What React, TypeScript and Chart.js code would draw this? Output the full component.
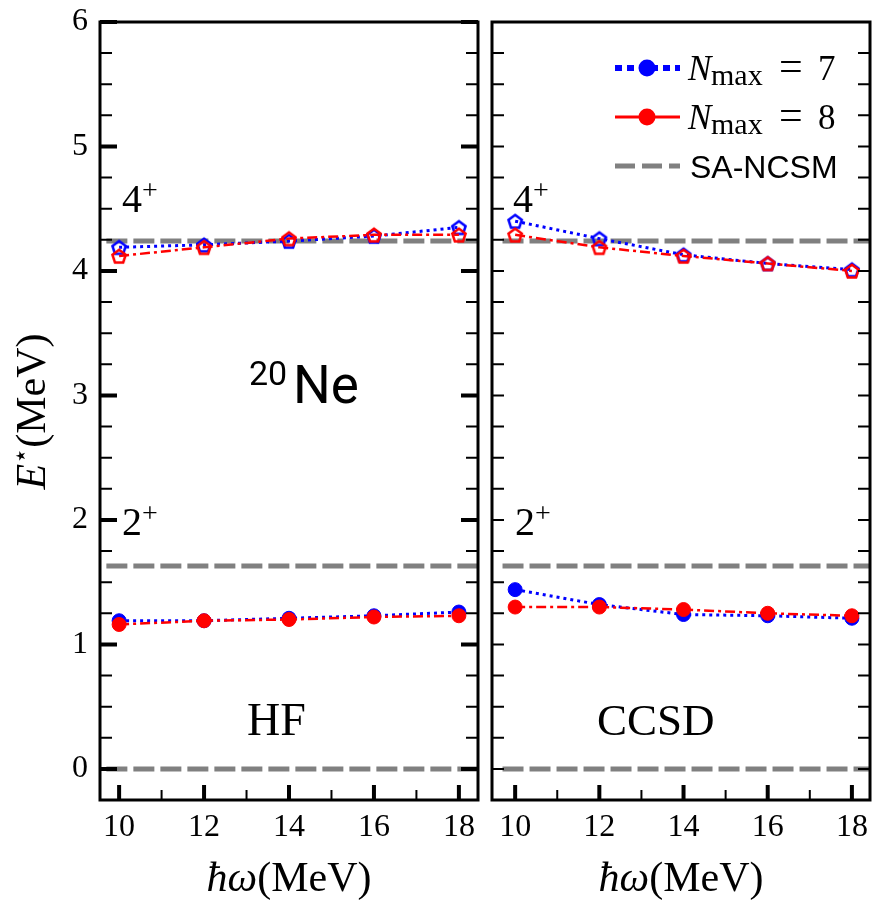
import { useEffect, useRef } from 'react';
import { Chart, registerables } from 'chart.js';
Chart.register(...registerables);

// ---------- data ----------
const hw = [10, 12, 14, 16, 18];
// HF panel
const hfFourN7 = [4.19, 4.21, 4.24, 4.28, 4.35];
const hfFourN8 = [4.12, 4.19, 4.26, 4.29, 4.29];
const hfTwoN7 = [1.19, 1.19, 1.21, 1.23, 1.26];
const hfTwoN8 = [1.16, 1.19, 1.2, 1.22, 1.23];
// CCSD panel
const ccFourN7 = [4.4, 4.26, 4.13, 4.06, 4.01];
const ccFourN8 = [4.29, 4.19, 4.12, 4.06, 4.0];
const ccTwoN7 = [1.44, 1.32, 1.24, 1.23, 1.21];
const ccTwoN8 = [1.3, 1.3, 1.28, 1.25, 1.23];
// SA-NCSM reference levels
const saLevels = [4.24, 1.63, 0];
const saX = [9.7, 18.45];
// ticks
const xTickValues = [10, 12, 14, 16, 18];
const yTickValues = [0, 1, 2, 3, 4, 5, 6];

const SERIF = '"Liberation Serif", "DejaVu Serif", serif';
const SANS = '"Liberation Sans", Arial, sans-serif';
const BLUE = '#0000ff';
const RED = '#ff0000';
const GRAY = '#808080';
const W = 874;
const H = 902;

function pentagon(color: string) {
  const c = document.createElement('canvas');
  c.width = 20;
  c.height = 20;
  const g = c.getContext('2d')!;
  g.strokeStyle = color;
  g.lineWidth = 2.5;
  g.beginPath();
  for (let i = 0; i < 5; i++) {
    const a = -Math.PI / 2 + (i * 2 * Math.PI) / 5;
    const px = 10 + 7 * Math.cos(a);
    const py = 10.8 + 7 * Math.sin(a);
    if (i) g.lineTo(px, py);
    else g.moveTo(px, py);
  }
  g.closePath();
  g.stroke();
  return c;
}

function buildDatasets(f7: number[], f8: number[], t7: number[], t8: number[]) {
  const pts = (ys: number[]) => hw.map((x, i) => ({ x, y: ys[i] }));
  const pb = pentagon(BLUE);
  const pr = pentagon(RED);
  const sa = saLevels.map((lv) => ({
    data: saX.map((x) => ({ x, y: lv })),
    borderColor: GRAY,
    borderWidth: 5,
    borderDash: [21, 6],
    pointRadius: 0,
    order: 5,
  }));
  const blueLine = { borderColor: BLUE, borderWidth: 3, borderDash: [3, 4], order: 3 };
  const redLine = { borderColor: RED, borderWidth: 2.5, borderDash: [10, 4, 3, 4], order: 1 };
  return [
    ...sa,
    { ...blueLine, data: pts(f7), pointStyle: pb, pointRadius: 8 },
    { ...blueLine, data: pts(t7), pointStyle: 'circle', pointRadius: 7, pointBackgroundColor: BLUE, pointBorderColor: BLUE, pointBorderWidth: 1 },
    { ...redLine, data: pts(f8), pointStyle: pr, pointRadius: 8 },
    { ...redLine, data: pts(t8), pointStyle: 'circle', pointRadius: 7, pointBackgroundColor: RED, pointBorderColor: RED, pointBorderWidth: 1 },
  ];
}

type Part = { t: string; font: string; dy?: number };
function drawParts(ctx: CanvasRenderingContext2D, parts: Part[], x: number, y: number, align: 'left' | 'center') {
  let total = 0;
  for (const p of parts) {
    ctx.font = p.font;
    total += ctx.measureText(p.t).width;
  }
  let cx = align === 'center' ? x - total / 2 : x;
  ctx.textAlign = 'left';
  ctx.textBaseline = 'alphabetic';
  for (const p of parts) {
    ctx.font = p.font;
    ctx.fillText(p.t, cx, y + (p.dy || 0));
    cx += ctx.measureText(p.t).width;
  }
}

function drawLevel(ctx: CanvasRenderingContext2D, digit: string, x: number, base: number) {
  ctx.fillStyle = '#000';
  drawParts(ctx, [
    { t: digit, font: `40px ${SERIF}` },
    { t: '+', font: `28px ${SERIF}`, dy: -13.5 },
  ], x, base, 'left');
}

function frameTicksPlugin(majorY: boolean) {
  return {
    id: 'frameTicks',
    afterDatasetsDraw(chart: any) {
      const { ctx, chartArea: a, scales } = chart;
      const xs = scales.x;
      const ys = scales.y;
      ctx.save();
      ctx.strokeStyle = '#000';
      ctx.setLineDash([]);
      // y ticks, both sides
      for (let i = 0; i <= 24; i++) {
        const v = i / 4;
        const py = ys.getPixelForValue(v);
        const major = majorY && i % 4 === 0;
        const len = major ? 17 : 12;
        ctx.lineWidth = major ? 4 : 2;
        ctx.beginPath();
        ctx.moveTo(a.left, py);
        ctx.lineTo(a.left + len, py);
        ctx.moveTo(a.right, py);
        ctx.lineTo(a.right - len, py);
        ctx.stroke();
      }
      // x ticks bottom
      for (let v = 10; v <= 18; v++) {
        const px = xs.getPixelForValue(v);
        const major = v % 2 === 0;
        ctx.lineWidth = major ? 4 : 2;
        ctx.beginPath();
        ctx.moveTo(px, a.bottom);
        ctx.lineTo(px, a.bottom - (major ? 15 : 10));
        ctx.stroke();
      }
      ctx.lineWidth = 3;
      ctx.strokeRect(a.left, a.top, a.right - a.left, a.bottom - a.top);
      ctx.restore();
    },
  };
}

function textPlugin(off: number, left: boolean) {
  return {
    id: 'texts',
    afterDraw(chart: any) {
      const ctx: CanvasRenderingContext2D = chart.ctx;
      const a = chart.chartArea;
      ctx.save();
      ctx.fillStyle = '#000';
      if (left) {
        drawLevel(ctx, '4', 122 - off, 212);
        drawLevel(ctx, '2', 122 - off, 535);
        drawParts(ctx, [{ t: 'HF', font: `46px ${SERIF}` }], 247 - off, 735, 'left');
        drawParts(ctx, [{ t: '20', font: `34px Roboto, ${SANS}` }], 249 - off, 385, 'left');
        drawParts(ctx, [{ t: 'Ne', font: `53px Roboto, ${SANS}` }], 293 - off, 403, 'left');
        // y axis title
        ctx.save();
        ctx.translate(45 - off, 411.5);
        ctx.rotate(-Math.PI / 2);
        drawParts(ctx, [
          { t: 'E', font: `italic 42px ${SERIF}` },
          { t: '⋆', font: `26px ${SERIF}`, dy: -16 },
          { t: '(MeV)', font: `42px ${SERIF}` },
        ], 0, 0, 'center');
        ctx.restore();
      } else {
        drawLevel(ctx, '4', 513 - off, 212);
        drawLevel(ctx, '2', 515 - off, 535);
        drawParts(ctx, [{ t: 'CCSD', font: `45px ${SERIF}` }], 597 - off, 735, 'left');
        // legend
        const lx0 = 615 - off;
        const lx1 = 680 - off;
        const mx = 647 - off;
        const rows = [68, 117, 166];
        ctx.lineCap = 'butt';
        // row 1
        ctx.strokeStyle = BLUE;
        ctx.lineWidth = 6;
        ctx.setLineDash([7, 5]);
        ctx.beginPath();
        ctx.moveTo(lx0, rows[0]);
        ctx.lineTo(lx1, rows[0]);
        ctx.stroke();
        ctx.fillStyle = BLUE;
        ctx.beginPath();
        ctx.arc(mx, rows[0], 8.5, 0, Math.PI * 2);
        ctx.fill();
        // row 2
        ctx.strokeStyle = RED;
        ctx.lineWidth = 3;
        ctx.setLineDash([]);
        ctx.beginPath();
        ctx.moveTo(lx0, rows[1]);
        ctx.lineTo(lx1, rows[1]);
        ctx.stroke();
        ctx.fillStyle = RED;
        ctx.beginPath();
        ctx.arc(mx, rows[1], 8.5, 0, Math.PI * 2);
        ctx.fill();
        // row 3
        ctx.strokeStyle = GRAY;
        ctx.lineWidth = 5;
        ctx.setLineDash([20, 7]);
        ctx.beginPath();
        ctx.moveTo(lx0, rows[2]);
        ctx.lineTo(lx1, rows[2]);
        ctx.stroke();
        ctx.setLineDash([]);
        ctx.fillStyle = '#000';
        const legendText = (val: string, base: number) => {
          drawParts(ctx, [{ t: 'N', font: `italic 35px ${SERIF}` }], 688 - off, base, 'left');
          drawParts(ctx, [{ t: 'max', font: `30px ${SERIF}` }], 711 - off, base + 5, 'left');
          drawParts(ctx, [{ t: '=', font: `42px ${SERIF}` }], 779 - off, base, 'left');
          drawParts(ctx, [{ t: val, font: `35px ${SERIF}` }], 818 - off, base, 'left');
        };
        legendText('7', 80);
        legendText('8', 129);
        drawParts(ctx, [{ t: 'SA-NCSM', font: `32px ${SANS}` }], 690 - off, 178, 'left');
      }
      // x axis title
      drawParts(ctx, [
        { t: 'ħω', font: `italic 42px ${SERIF}` },
        { t: '(MeV)', font: `42px ${SERIF}` },
      ], (a.left + a.right) / 2, 891, 'center');
      ctx.restore();
    },
  };
}

function zeroPad(s: any) {
  s.paddingTop = 0;
  s.paddingBottom = 0;
  s.paddingLeft = 0;
  s.paddingRight = 0;
}

function makeConfig(left: boolean, data: number[][], off: number, cw: number) {
  const [f7, f8, t7, t8] = data;
  const xMin = left ? 9.55 : 9.45;
  const xMax = left ? 18.45 : 18.43;
  const padLeft = left ? 0 : 492 - off;
  const padRight = left ? cw - 478 : off + cw - 870;
  return {
    type: 'line',
    data: { datasets: buildDatasets(f7, f8, t7, t8) },
    options: {
      animation: false,
      responsive: false,
      devicePixelRatio: 1,
      layout: { autoPadding: false, padding: { left: padLeft, right: padRight, top: 22, bottom: 0 } },
      plugins: { legend: { display: false }, tooltip: { enabled: false } },
      elements: { line: { tension: 0, fill: false } },
      scales: {
        x: {
          type: 'linear',
          min: xMin,
          max: xMax,
          grid: { display: false, drawTicks: false },
          border: { display: false },
          afterBuildTicks: (s: any) => {
            s.ticks = xTickValues.map((v) => ({ value: v }));
          },
          afterFit: (s: any) => {
            s.height = H - 800;
            zeroPad(s);
          },
          ticks: {
            font: { family: SERIF, size: 32 },
            color: '#000',
            padding: 8,
            maxRotation: 0,
            autoSkip: false,
          },
        },
        y: {
          type: 'linear',
          display: left,
          min: -0.25,
          max: 6,
          grid: { display: false, drawTicks: false },
          border: { display: false },
          afterBuildTicks: (s: any) => {
            s.ticks = yTickValues.map((v) => ({ value: v }));
          },
          afterFit: (s: any) => {
            s.width = left ? 100 : 0;
            zeroPad(s);
          },
          ticks: {
            font: { family: SERIF, size: 32 },
            color: '#000',
            padding: 12,
          },
        },
      },
    },
    plugins: [frameTicksPlugin(left), textPlugin(off, left)],
  } as any;
}

export default function App() {
  const leftRef = useRef<HTMLCanvasElement>(null);
  const rightRef = useRef<HTMLCanvasElement>(null);
  const LW = 485;
  const RW = W - LW;

  useEffect(() => {
    const c1 = new Chart(leftRef.current!, makeConfig(true, [hfFourN7, hfFourN8, hfTwoN7, hfTwoN8], 0, LW));
    const c2 = new Chart(rightRef.current!, makeConfig(false, [ccFourN7, ccFourN8, ccTwoN7, ccTwoN8], LW, RW));
    return () => {
      c1.destroy();
      c2.destroy();
    };
  }, []);

  return (
    <div style={{ position: 'absolute', left: 0, top: 0, width: W, height: H, background: '#fff' }}>
      <canvas ref={leftRef} width={LW} height={H} style={{ position: 'absolute', left: 0, top: 0, width: LW, height: H }} />
      <canvas ref={rightRef} width={RW} height={H} style={{ position: 'absolute', left: LW, top: 0, width: RW, height: H }} />
    </div>
  );
}
